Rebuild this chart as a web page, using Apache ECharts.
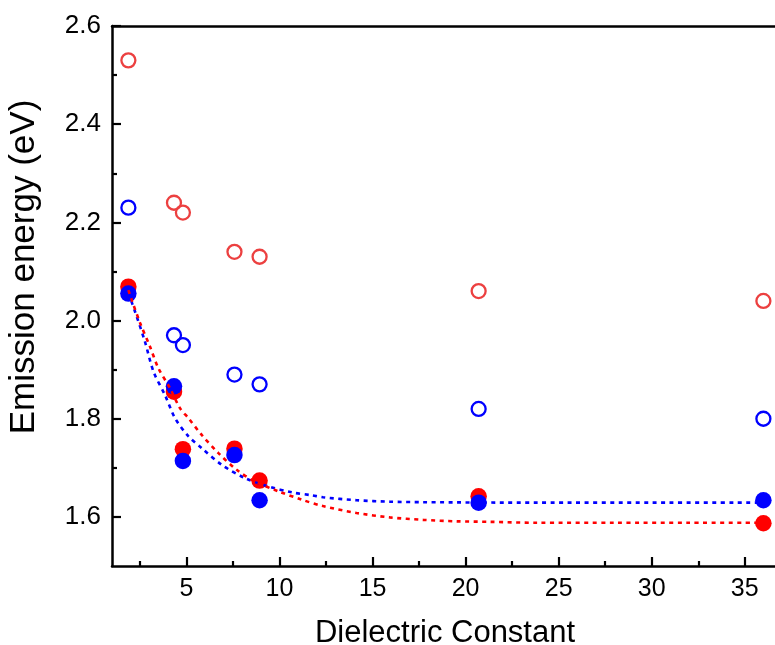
<!DOCTYPE html>
<html>
<head>
<meta charset="utf-8">
<script src="https://cdn.jsdelivr.net/npm/echarts@6/dist/echarts.min.js"></script>
<style>
  html, body { margin: 0; padding: 0; background: #fff; }
  #chart { width: 775px; height: 645px; }
</style>
</head>
<body>
<div id="chart"></div>
<script>
// Solvent dielectric constants (x) and emission energies in eV (y)
const dielectric = [1.88, 4.33, 4.81, 7.58, 8.93, 20.7, 36.0];
const redOpen    = [2.53, 2.24, 2.22, 2.14, 2.13, 2.06, 2.04];
const blueOpen   = [2.23, 1.97, 1.95, 1.89, 1.87, 1.82, 1.80];
const redFilled  = [2.069, 1.855, 1.738, 1.739, 1.674, 1.642, 1.587];
const blueFilled = [2.055, 1.866, 1.714, 1.726, 1.634, 1.629, 1.634];

// Fitted decay curves (dotted)
const redFitX  = [1.88, 2.06, 2.51, 3.04, 3.49, 4.12, 4.66, 5.11, 5.82, 6.72, 7.70, 8.69, 9.95, 11.2, 12.34, 14.14, 15.93, 17.72, 19.52, 21.31, 23.82, 28.0, 32.0, 36.0];
const redFitY  = [2.062, 2.042, 1.995, 1.947, 1.903, 1.862, 1.821, 1.801, 1.767, 1.730, 1.696, 1.672, 1.652, 1.635, 1.622, 1.608, 1.599, 1.594, 1.591, 1.590, 1.588, 1.588, 1.588, 1.588];
const blueFitX = [1.88, 2.24, 2.77, 3.23, 3.85, 4.39, 5.11, 5.82, 6.90, 8.15, 9.41, 10.66, 11.74, 12.34, 14.14, 15.93, 17.72, 23.82, 30.0, 36.0];
const blueFitY = [2.056, 2.018, 1.957, 1.896, 1.848, 1.801, 1.764, 1.740, 1.706, 1.679, 1.662, 1.650, 1.644, 1.640, 1.634, 1.631, 1.630, 1.629, 1.629, 1.629];

// Tick positions
const xMajorTicks = [5, 10, 15, 20, 25, 30, 35];
const xMinorTicks = [2.5, 7.5, 12.5, 17.5, 22.5, 27.5, 32.5];
const yMajorTicks = [1.6, 1.8, 2.0, 2.2, 2.4, 2.6];
const yMinorTicks = [1.7, 1.9, 2.1, 2.3, 2.5];

const pairs = (xs, ys) => xs.map((x, i) => [x, ys[i]]);

const FONT = "'Liberation Sans', Arial, sans-serif";
const AXIS_LINE = { show: true, lineStyle: { color: '#000', width: 2.5 } };

const chart = echarts.init(document.getElementById('chart'), null, { renderer: 'canvas' });

chart.setOption({
  backgroundColor: '#fff',
  animation: false,
  grid: { left: 112, top: 26, right: -7, bottom: 79, containLabel: false, outerBoundsMode: 'none' },
  xAxis: [
    {
      type: 'value', min: 1, max: 37, position: 'bottom',
      name: 'Dielectric Constant', nameLocation: 'middle', nameGap: 52,
      nameTextStyle: { fontFamily: FONT, fontSize: 31, color: '#000', padding: [0, 4, 0, 0] },
      axisLine: AXIS_LINE,
      axisTick: { show: true, inside: true, length: 9, customValues: xMajorTicks, lineStyle: { color: '#000', width: 2.2 } },
      axisLabel: { show: true, customValues: xMajorTicks, margin: 11, fontFamily: FONT, fontSize: 25, color: '#000' },
      splitLine: { show: false }
    },
    {
      type: 'value', min: 1, max: 37, position: 'bottom', gridIndex: 0,
      axisLine: { show: false },
      axisTick: { show: true, inside: true, length: 5, customValues: xMinorTicks, lineStyle: { color: '#000', width: 2.2 } },
      axisLabel: { show: false },
      splitLine: { show: false }
    },
    {
      type: 'value', min: 1, max: 37, position: 'top',
      axisLine: AXIS_LINE,
      axisTick: { show: false },
      axisLabel: { show: false },
      splitLine: { show: false }
    }
  ],
  yAxis: [
    {
      type: 'value', min: 1.5, max: 2.6, position: 'left',
      name: 'Emission energy (eV)', nameLocation: 'middle', nameGap: 70, nameRotate: 90,
      nameTextStyle: { fontFamily: FONT, fontSize: 35, color: '#000', padding: [0, 0, 0, 58] },
      axisLine: AXIS_LINE,
      axisTick: { show: true, inside: true, length: 9, customValues: yMajorTicks, lineStyle: { color: '#000', width: 2.2 } },
      axisLabel: { show: true, customValues: yMajorTicks, margin: 11, fontFamily: FONT, fontSize: 26, color: '#000',
                   formatter: v => v.toFixed(1) },
      splitLine: { show: false }
    },
    {
      type: 'value', min: 1.5, max: 2.6, position: 'left',
      axisLine: { show: false },
      axisTick: { show: true, inside: true, length: 5, customValues: yMinorTicks, lineStyle: { color: '#000', width: 2.2 } },
      axisLabel: { show: false },
      splitLine: { show: false }
    }
  ],
  series: [
    {
      type: 'scatter', name: 'red open', data: pairs(dielectric, redOpen),
      symbol: 'circle', symbolSize: 14,
      itemStyle: { color: 'rgba(255,255,255,0)', borderColor: '#ec4040', borderWidth: 2.3, opacity: 1 }
    },
    {
      type: 'scatter', name: 'blue open', data: pairs(dielectric, blueOpen),
      symbol: 'circle', symbolSize: 14,
      itemStyle: { color: 'rgba(255,255,255,0)', borderColor: '#0000ff', borderWidth: 2.3, opacity: 1 }
    },
    {
      type: 'scatter', name: 'red filled', data: pairs(dielectric, redFilled),
      symbol: 'circle', symbolSize: 16.5,
      itemStyle: { color: '#ff0000', opacity: 1 }
    },
    {
      type: 'scatter', name: 'blue filled', data: pairs(dielectric, blueFilled),
      symbol: 'circle', symbolSize: 16.5,
      itemStyle: { color: '#0000ff', opacity: 1 }
    },
    {
      type: 'line', name: 'blue fit', data: pairs(blueFitX, blueFitY),
      showSymbol: false, smooth: 0.3,
      lineStyle: { color: '#0000ff', width: 2.6, type: [4, 4.5] }
    },
    {
      type: 'line', name: 'red fit', data: pairs(redFitX, redFitY),
      showSymbol: false, smooth: 0.3,
      lineStyle: { color: '#ff0000', width: 2.6, type: [4, 4.5] }
    }
  ]
});
</script>
</body>
</html>
